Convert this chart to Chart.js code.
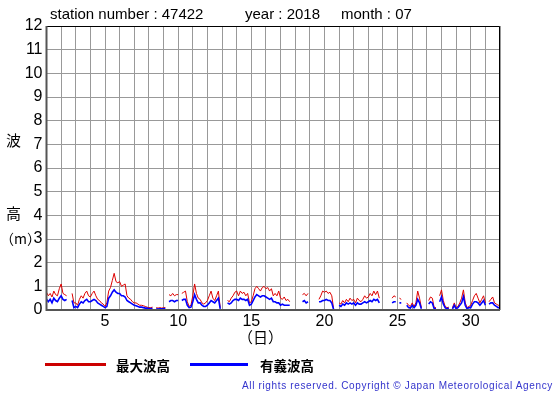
<!DOCTYPE html>
<html>
<head>
<meta charset="utf-8">
<script src="https://cdn.jsdelivr.net/npm/chart.js@4"></script>
<style>
  body { margin: 0; background: #fff; }
  .wrap { position: relative; width: 555px; height: 395px; font-family: 'Liberation Sans', Arial, sans-serif; }
  canvas { position: absolute; left: 0; top: 0; }
  .txt { position: absolute; white-space: pre; color: #000; }
  .jp { font-family: 'Noto Sans CJK JP', sans-serif; }
</style>
</head>
<body>
<div class="wrap">
  <canvas id="chart" width="555" height="395"></canvas>
  <div class="txt" style="left:50px; top:5px; font-size:15px;">station number : 47422</div>
  <div class="txt" style="left:245px; top:5px; font-size:15px;">year : 2018</div>
  <div class="txt" style="left:341px; top:5px; font-size:15px;">month : 07</div>
  <div class="txt jp" style="left:6px; top:129px; font-size:15px;">波</div>
  <div class="txt jp" style="left:6px; top:202px; font-size:15px;">高</div>
  <div class="txt jp" style="left:0px; top:228px; font-size:14px;">（m）</div>
  <div class="txt jp" style="left:238px; top:326px; font-size:15px;">（日）</div>
  <div style="position:absolute; left:45px; top:363px; width:61px; height:3px; background:#cc0000;"></div>
  <div class="txt jp" style="left:116px; top:355px; font-size:13.5px; font-weight:bold;">最大波高</div>
  <div style="position:absolute; left:190px; top:363px; width:58px; height:3px; background:#0000ff;"></div>
  <div class="txt jp" style="left:260px; top:355px; font-size:13.5px; font-weight:bold;">有義波高</div>
  <div class="txt" style="left:242px; top:380px; font-size:10px; letter-spacing:0.65px; color:#3333cc;">All rights reserved. Copyright © Japan Meteorological Agency</div>
</div>
<script>
// 3-hourly values, one row per day (00,03,...,21h), day 1 .. day 31, then day 32 00h
const maxWave = [
  0.75, 0.6, 0.7, 0.55, 0.8, 0.65, 0.6, 0.9,
  1.1, 0.7, 0.65, 0.6, null, null, 0.7, 0.3,
  0.3, 0.2, 0.45, 0.6, 0.5, 0.7, 0.8, 0.6,
  0.55, 0.7, 0.8, 0.6, 0.45, 0.4, 0.3, 0.25,
  0.15, 0.3, 0.8, 0.95, 1.25, 1.55, 1.2, 1.15,
  1.2, 1.0, 1.05, 1.1, 0.6, 0.5, 0.45, 0.35,
  0.3, 0.3, 0.25, 0.2, 0.2, 0.18, 0.15, 0.12,
  0.1, 0.1, 0.12, null, 0.1, 0.08, 0.1, 0.08,
  0.1, 0.1, null, 0.65, 0.6, 0.7, 0.6, 0.65,
  0.65, null, 0.7, 0.75, 0.8, 0.35, 0.15, 0.2,
  0.6, 1.1, 0.7, 0.5, 0.45, 0.3, 0.25, 0.3,
  0.4, 0.6, 0.8, 0.5, 0.4, 0.6, 0.8, 0.1,
  null, null, null, 0.4, 0.35, 0.5, 0.6, 0.75,
  0.8, 0.6, 0.8, 0.7, 0.75, 0.6, 0.7, 0.3,
  0.35, 0.6, 0.9, 1.0, 0.9, 0.8, 0.95, 1.0,
  0.9, 0.95, 0.8, 0.9, 0.6, 0.7, 0.6, 0.8,
  0.5, 0.45, 0.55, 0.4, 0.45, 0.35, null, null,
  0.6, null, 0.55, null, 0.65, 0.7, 0.6, 0.7,
  null, 0.5, null, 0.4, null, 0.45, 0.6, 0.8,
  0.75, 0.8, 0.7, 0.75, 0.6, 0.05, null, null,
  0.3, 0.25, 0.4, 0.3, 0.45, 0.35, 0.5, 0.4,
  0.45, 0.3, 0.5, 0.4, 0.35, 0.45, 0.6, 0.5,
  0.55, 0.7, 0.6, 0.8, 0.65, 0.8, 0.5, null,
  null, 0.45, null, null, null, 0.5, 0.6, 0.55,
  null, 0.5, 0.45, null, null, 0.3, 0.2, 0.15,
  0.3, 0.15, 0.3, 0.8, 0.5, 0.1, null, null,
  null, 0.4, 0.55, 0.5, 0.1, 0.1, null, 0.6,
  0.85, 0.4, 0.15, 0.1, 0.12, null, 0.1, 0.3,
  0.1, 0.15, 0.3, 0.5, 0.85, 0.3, 0.1, 0.15,
  0.2, 0.4, 0.6, 0.7, 0.5, 0.3, 0.45, 0.6,
  0.3, null, 0.35, 0.45, 0.55, 0.3, 0.25, 0.2,
  0.2
];
const sigWave = [
  0.45, 0.35, 0.45, 0.3, 0.5, 0.4, 0.35, 0.5,
  0.6, 0.45, 0.4, 0.45, null, null, 0.4, 0.1,
  0.15, 0.1, 0.25, 0.35, 0.3, 0.4, 0.45, 0.35,
  0.35, 0.4, 0.45, 0.4, 0.3, 0.25, 0.2, 0.15,
  0.1, 0.15, 0.5, 0.6, 0.75, 0.85, 0.75, 0.7,
  0.7, 0.6, 0.6, 0.55, 0.4, 0.35, 0.3, 0.25,
  0.2, 0.18, 0.15, 0.12, 0.12, 0.1, 0.08, 0.08,
  0.05, 0.06, 0.06, null, 0.05, 0.04, 0.05, 0.05,
  0.05, 0.06, null, 0.35, 0.4, 0.4, 0.35, 0.4,
  0.4, null, 0.4, 0.45, 0.45, 0.2, 0.1, 0.12,
  0.35, 0.65, 0.45, 0.3, 0.3, 0.2, 0.15, 0.15,
  0.2, 0.3, 0.4, 0.35, 0.3, 0.4, 0.5, 0.05,
  null, null, null, 0.3, 0.25, 0.3, 0.4, 0.45,
  0.45, 0.4, 0.5, 0.45, 0.45, 0.4, 0.45, 0.2,
  0.25, 0.4, 0.55, 0.65, 0.6, 0.55, 0.6, 0.6,
  0.55, 0.5, 0.45, 0.5, 0.35, 0.35, 0.3, 0.3,
  0.2, 0.25, 0.2, 0.2, 0.2, 0.2, null, null,
  0.35, null, 0.35, null, 0.35, 0.4, 0.3, 0.35,
  null, 0.3, null, 0.35, null, 0.35, 0.35, 0.4,
  0.4, 0.45, 0.4, 0.4, 0.3, 0.02, null, null,
  0.2, 0.15, 0.25, 0.2, 0.3, 0.25, 0.3, 0.25,
  0.3, 0.2, 0.3, 0.25, 0.25, 0.3, 0.35, 0.3,
  0.35, 0.4, 0.35, 0.45, 0.4, 0.45, 0.3, null,
  null, 0.3, null, null, null, 0.3, 0.35, 0.35,
  null, 0.3, 0.3, null, null, 0.2, 0.1, 0.08,
  0.2, 0.1, 0.2, 0.45, 0.3, 0.05, null, null,
  null, 0.25, 0.35, 0.3, 0.05, 0.05, null, 0.35,
  0.55, 0.25, 0.1, 0.05, 0.08, null, 0.05, 0.2,
  0.05, 0.1, 0.2, 0.3, 0.57, 0.2, 0.05, 0.1,
  0.1, 0.25, 0.35, 0.35, 0.3, 0.2, 0.3, 0.4,
  0.2, null, 0.25, 0.3, 0.3, 0.2, 0.15, 0.1,
  0.1
];
const stepsPerDay = 8;
const dayLabels = [5, 10, 15, 20, 25, 30];

const toPoints = arr => arr.map((v, i) => ({ x: 1 + i / stepsPerDay, y: v }));

const frame = {
  id: 'frame',
  afterDraw(chart) {
    const { ctx, chartArea: a } = chart;
    ctx.save();
    ctx.strokeStyle = '#000';
    ctx.lineWidth = 1;
    ctx.beginPath();
    ctx.moveTo(a.left, a.top + 0.5);
    ctx.lineTo(a.right - 0.5, a.top + 0.5);
    ctx.lineTo(a.right - 0.5, a.bottom);
    ctx.stroke();
    ctx.strokeStyle = '#555';
    ctx.lineWidth = 2;
    ctx.beginPath();
    ctx.moveTo(a.left, a.top);
    ctx.lineTo(a.left, a.bottom);
    ctx.lineTo(a.right, a.bottom);
    ctx.stroke();
    ctx.restore();
  }
};

new Chart(document.getElementById('chart'), {
  type: 'line',
  data: {
    datasets: [
      { label: '最大波高', data: toPoints(maxWave), borderColor: '#dd0000', borderWidth: 1, pointRadius: 0, spanGaps: false, order: 2 },
      { label: '有義波高', data: toPoints(sigWave), borderColor: '#0000ff', borderWidth: 1.6, pointRadius: 0, spanGaps: false, order: 1 }
    ]
  },
  options: {
    responsive: false,
    animation: false,
    layout: { padding: { top: 26, right: 55, left: 0, bottom: 0 } },
    plugins: { legend: { display: false }, tooltip: { enabled: false } },
    scales: {
      x: {
        type: 'linear',
        min: 1,
        max: 32,
        afterFit: s => { s.height = 85; },
        afterBuildTicks: s => { s.ticks = []; for (let d = 1; d <= 32; d++) s.ticks.push({ value: d }); },
        ticks: {
          autoSkip: false,
          maxRotation: 0,
          padding: 2,
          color: '#000',
          font: { family: 'Liberation Sans', size: 16 },
          callback: v => dayLabels.includes(v) ? String(v) : ''
        },
        grid: { color: '#999', lineWidth: 1, drawTicks: false },
        border: { display: false }
      },
      y: {
        min: 0,
        max: 12,
        afterFit: s => { s.width = 46.5; },
        ticks: {
          stepSize: 1,
          padding: 4,
          color: '#000',
          font: { family: 'Liberation Sans', size: 16 }
        },
        grid: { color: '#999', lineWidth: 1, drawTicks: false },
        border: { display: false }
      }
    }
  },
  plugins: [frame]
});
</script>
</body>
</html>
